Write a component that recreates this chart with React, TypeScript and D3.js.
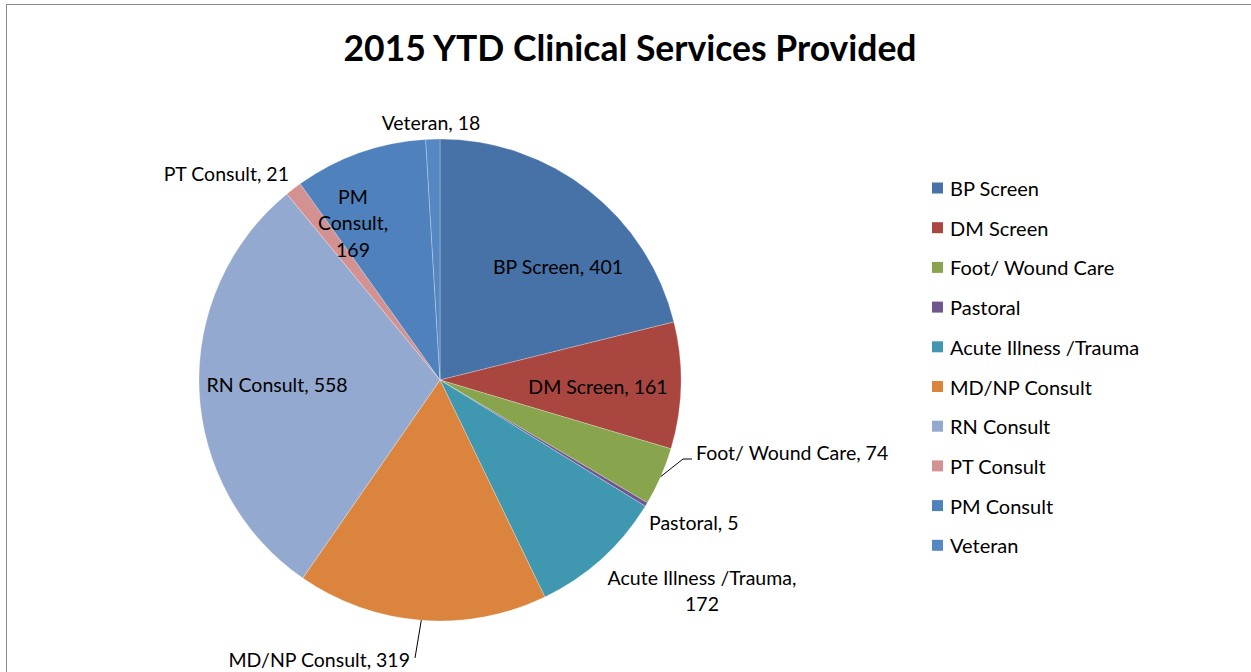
import React from "react";
import * as d3 from "d3";

const categories = ["BP Screen", "DM Screen", "Foot/ Wound Care", "Pastoral", "Acute Illness /Trauma", "MD/NP Consult", "RN Consult", "PT Consult", "PM Consult", "Veteran"];
const values = [401, 161, 74, 5, 172, 319, 558, 21, 169, 18];
const colors = ["#4672A8", "#A9463F", "#88A44C", "#6F5691", "#3F98AF", "#DB843D", "#94A9CF", "#D39291", "#4F81BD", "#5587C2"];
const title = "2015 YTD Clinical Services Provided";

type LabelLayout = { dx: number; dy: number[]; anchor: "start" | "middle" | "end"; lines: string[]; leader?: [number, number][] };

const W = 1251, H = 672;
const cx = 440, cy = 380, R = 241;
const FONT = "Lato, 'Open Sans', sans-serif";
const LABEL_SIZE = 19.5;
const LEGEND_SIZE = 20;

export default function App() {
  const pie = d3.pie<number>().sort(null).value((d) => d)(values);
  const arc = d3.arc<d3.PieArcDatum<number>>().innerRadius(0).outerRadius(R);

  const labelLayouts: LabelLayout[] = [
    { dx: 118, dy: [-114], anchor: "middle", lines: [`${categories[0]}, ${values[0]}`] },
    { dx: 158, dy: [6], anchor: "middle", lines: [`${categories[1]}, ${values[1]}`] },
    { dx: 256, dy: [72], anchor: "start", lines: [`${categories[2]}, ${values[2]}`], leader: [[243, 79], [252, 79]] },
    { dx: 209, dy: [142], anchor: "start", lines: [`${categories[3]}, ${values[3]}`] },
    { dx: 262, dy: [197, 223], anchor: "middle", lines: [`${categories[4]},`, `${values[4]}`] },
    { dx: -30, dy: [279], anchor: "end", lines: [`${categories[5]}, ${values[5]}`], leader: [[-25, 278]] },
    { dx: -163, dy: [4], anchor: "middle", lines: [`${categories[6]}, ${values[6]}`] },
    { dx: -151, dy: [-207], anchor: "end", lines: [`${categories[7]}, ${values[7]}`] },
    { dx: -87, dy: [-184, -158, -131], anchor: "middle", lines: ["PM", "Consult,", `${values[8]}`] },
    { dx: -9, dy: [-258], anchor: "middle", lines: [`${categories[9]}, ${values[9]}`] },
  ];

  const legendX = 932, legendY0 = 188, legendStep = 39.7;

  return (
    <svg width={W} height={H} style={{ position: "absolute", left: 0, top: 0 }}>
      <rect x={0} y={0} width={W} height={H} fill="#fff" />
      <rect x={6.5} y={4.5} width={W + 10} height={H + 10} fill="none" stroke="#8a8a8a" strokeWidth={1} />
      <text x={630} y={47} textAnchor="middle" dominantBaseline="central" fontFamily={FONT} fontWeight="bold" fontSize={35.5} fill="#000">
        {title}
      </text>
      <g transform={`translate(${cx},${cy})`}>
        {pie.map((d, i) => (
          <path key={i} d={arc(d) || ""} fill={colors[i]} stroke="#ffffff" strokeOpacity={0.35} strokeWidth={0.75} />
        ))}
        {pie.map((d, i) => {
          const L = labelLayouts[i];
          if (!L.leader) return null;
          const mid = (d.startAngle + d.endAngle) / 2;
          const p0: [number, number] = [R * Math.sin(mid), -R * Math.cos(mid)];
          const pts = [p0, ...L.leader];
          return <path key={"l" + i} d={d3.line()(pts) || ""} fill="none" stroke="#000" strokeWidth={1} />;
        })}
        {labelLayouts.map((L, i) =>
          L.lines.map((t, j) => (
            <text key={i + "-" + j} x={L.dx} y={L.dy[j]} textAnchor={L.anchor} dominantBaseline="central" fontFamily={FONT} fontSize={LABEL_SIZE} fill="#000">
              {t}
            </text>
          ))
        )}
      </g>
      <g>
        {categories.map((c, i) => (
          <g key={c} transform={`translate(${legendX},${legendY0 + i * legendStep})`}>
            <rect x={0} y={-5.5} width={11} height={11} fill={colors[i]} />
            <text x={18} y={0} dominantBaseline="central" fontFamily={FONT} fontSize={LEGEND_SIZE} fill="#000">
              {c}
            </text>
          </g>
        ))}
      </g>
    </svg>
  );
}
